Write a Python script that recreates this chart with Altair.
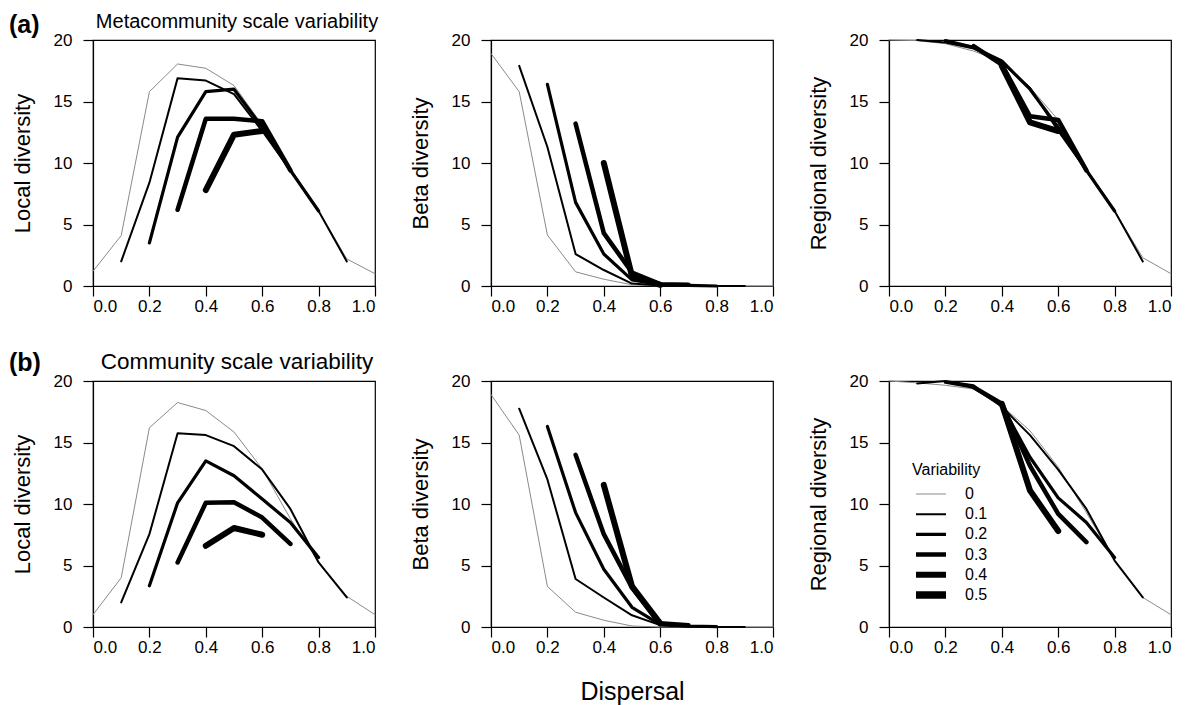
import altair as alt
import pandas as pd

FONT = "Liberation Sans"

dispersal_ticks = [0.0, 0.2, 0.4, 0.6, 0.8, 1.0]
diversity_ticks = [0, 5, 10, 15, 20]
variability_levels = ["0", "0.1", "0.2", "0.3", "0.4", "0.5"]
variability_starts = [0.0, 0.1, 0.2, 0.3, 0.4]
line_colors = ["#8a8a8a", "black", "black", "black", "black", "black"]
line_widths = [1, 2, 3.2, 4.5, 6, 7.5]

panel_tags = ["(a)", "(b)"]
row_headings = ["Metacommunity scale variability", "Community scale variability"]
y_titles = ["Local diversity", "Beta diversity", "Regional diversity"]
x_title = "Dispersal"

# (a) Metacommunity scale variability -- each series starts at dispersal = its variability
a_local_v0 = [1.2, 4.1, 15.8, 18.05, 17.7, 16.3, 13.1, 9.6, 6.1, 2.2, 1.0]
a_local_v1 = [2.0, 8.4, 16.9, 16.7, 15.6, 12.6, 9.4, 6.1, 2.0]
a_local_v2 = [3.5, 12.1, 15.8, 16.0, 12.9, 9.4, 6.1]
a_local_v3 = [6.2, 13.6, 13.6, 13.4, 9.4]
a_local_v4 = [7.8, 12.3, 12.6]

a_beta_v0 = [18.9, 15.8, 4.15, 1.15, 0.55, 0.1, 0, 0, 0, 0, 0]
a_beta_v1 = [17.9, 11.3, 2.6, 1.3, 0.2, 0.05, 0, 0, 0]
a_beta_v2 = [16.4, 6.8, 2.6, 0.5, 0.1, 0.05, 0]
a_beta_v3 = [13.2, 4.3, 1.1, 0.15, 0.1]
a_beta_v4 = [10.0, 0.8, 0.1]

a_reg_v0 = [20, 19.95, 19.7, 19.1, 18.2, 16.15, 13.5, 9.6, 6.1, 2.3, 1.0]
a_reg_v1 = [20, 19.8, 19.3, 18.2, 16.1, 12.6, 9.4, 6.1, 2.0]
a_reg_v2 = [19.95, 19.4, 18.3, 16.0, 12.9, 9.4, 6.1]
a_reg_v3 = [19.5, 18.0, 13.8, 13.5, 9.4]
a_reg_v4 = [17.9, 13.3, 12.6]

# (b) Community scale variability
b_local_v0 = [1.0, 4.0, 16.2, 18.25, 17.6, 15.85, 12.85, 8.8, 5.25, 2.5, 1.0]
b_local_v1 = [2.0, 7.55, 15.75, 15.6, 14.7, 12.8, 9.6, 5.25, 2.4]
b_local_v2 = [3.35, 10.1, 13.5, 12.3, 10.4, 8.5, 5.65]
b_local_v3 = [5.25, 10.1, 10.15, 8.9, 6.75]
b_local_v4 = [6.6, 8.05, 7.5]

b_beta_v0 = [18.9, 15.6, 3.3, 1.2, 0.55, 0.08, 0, 0, 0, 0, 0]
b_beta_v1 = [17.75, 12.0, 3.9, 2.4, 0.95, 0.15, 0.05, 0, 0]
b_beta_v2 = [16.3, 9.3, 4.7, 1.6, 0.2, 0.08, 0.03]
b_beta_v3 = [14.0, 7.55, 3.2, 0.3, 0.15]
b_beta_v4 = [11.55, 3.3, 0.3]

b_reg_v0 = [20, 19.85, 19.65, 19.35, 18.0, 15.95, 13.0, 9.3, 5.4, 2.4, 1.0]
b_reg_v1 = [19.8, 20.0, 19.65, 17.9, 15.6, 12.8, 9.6, 5.4, 2.4]
b_reg_v2 = [19.9, 19.5, 18.0, 13.8, 10.5, 8.5, 5.65]
b_reg_v3 = [19.5, 18.15, 13.1, 9.2, 6.9]
b_reg_v4 = [18.15, 11.1, 7.8]


def to_frame(series):
    rows = []
    for label, start, values in zip(variability_levels, variability_starts, series):
        for i, v in enumerate(values):
            rows.append({"variability": label,
                         "dispersal": round(start + 0.1 * i, 1),
                         "value": v})
    return pd.DataFrame(rows)


W, H = 282, 246


def panel(series, ytitle, xtitle="", show_legend=False, tag=None, heading=None,
          tag_y=-7.6, heading_size=20):
    if show_legend:
        leg = alt.Legend(title="Variability", orient="none", legendX=23, legendY=81,
                         symbolType="M-1,0H5", symbolSize=100, labelOffset=35,
                         clipHeight=16,
                         titleFontSize=16, titleFontWeight="normal", titleFont=FONT,
                         labelFontSize=16, labelFont=FONT, titlePadding=8,
                         rowPadding=4.2, padding=0, titleColor="black", labelColor="black")
    else:
        leg = None
    lines = alt.Chart(to_frame(series)).mark_line(
        strokeCap="round", strokeJoin="round"
    ).encode(
        x=alt.X("dispersal:Q",
                scale=alt.Scale(domain=[0, 1], nice=False, zero=False),
                axis=alt.Axis(values=dispersal_ticks, format=".1f", title=xtitle,
                              titleY=72, titleBaseline="alphabetic", titleFontSize=25,
                              titleFontWeight="normal", labelPadding=2)),
        y=alt.Y("value:Q",
                scale=alt.Scale(domain=[0, 20], nice=False),
                axis=alt.Axis(values=diversity_ticks, title=ytitle, titleX=-71,
                              titleY=H / 2, titleBaseline="middle", titleAlign="center",
                              titleAngle=270, titleFontSize=22, titleFontWeight="normal",
                              labelPadding=11)),
        color=alt.Color("variability:O",
                        scale=alt.Scale(type="ordinal", domain=variability_levels,
                                        range=line_colors),
                        legend=leg),
        strokeWidth=alt.StrokeWidth("variability:O",
                                    scale=alt.Scale(type="ordinal", domain=variability_levels,
                                                    range=line_widths),
                                    legend=leg),
        order=alt.Order("dispersal:Q"),
    )
    layers = [lines]
    if tag is not None:
        layers.append(
            alt.Chart(pd.DataFrame({"label": [tag]})).mark_text(
                align="left", baseline="alphabetic", fontSize=25, fontWeight="bold",
                font=FONT, color="black"
            ).encode(text="label:N", x=alt.value(-84), y=alt.value(tag_y))
        )
    if heading is not None:
        layers.append(
            alt.Chart(pd.DataFrame({"label": [heading]})).mark_text(
                align="center", baseline="alphabetic", fontSize=heading_size,
                font=FONT, color="black"
            ).encode(text="label:N", x=alt.value(144), y=alt.value(-12))
        )
    return alt.layer(*layers).properties(width=W, height=H)


panels = [
    panel([a_local_v0, a_local_v1, a_local_v2, a_local_v3, a_local_v4], y_titles[0],
          tag=panel_tags[0], heading=row_headings[0], tag_y=-7, heading_size=20),
    panel([a_beta_v0, a_beta_v1, a_beta_v2, a_beta_v3, a_beta_v4], y_titles[1]),
    panel([a_reg_v0, a_reg_v1, a_reg_v2, a_reg_v3, a_reg_v4], y_titles[2]),
    panel([b_local_v0, b_local_v1, b_local_v2, b_local_v3, b_local_v4], y_titles[0],
          tag=panel_tags[1], heading=row_headings[1], tag_y=-10, heading_size=22.5),
    panel([b_beta_v0, b_beta_v1, b_beta_v2, b_beta_v3, b_beta_v4], y_titles[1],
          xtitle=x_title),
    panel([b_reg_v0, b_reg_v1, b_reg_v2, b_reg_v3, b_reg_v4], y_titles[2],
          show_legend=True),
]

chart = alt.concat(
    *panels, columns=3, spacing={"row": 95, "column": 116}, bounds="flush",
    padding={"left": 0, "top": 3, "right": 5, "bottom": 0},
    background="white",
).resolve_scale(
    color="independent", strokeWidth="independent"
).resolve_legend(
    color="independent", strokeWidth="independent"
).configure_view(
    stroke="black", strokeWidth=1.2
).configure_axis(
    domainColor="black", tickColor="black", labelColor="black", titleColor="black",
    labelFont=FONT, titleFont=FONT, labelFontSize=17, domainWidth=1.2, tickWidth=1.2,
    tickSize=10, grid=False
)

chart.save("out.html", embed_options={"renderer": "svg", "actions": False})
